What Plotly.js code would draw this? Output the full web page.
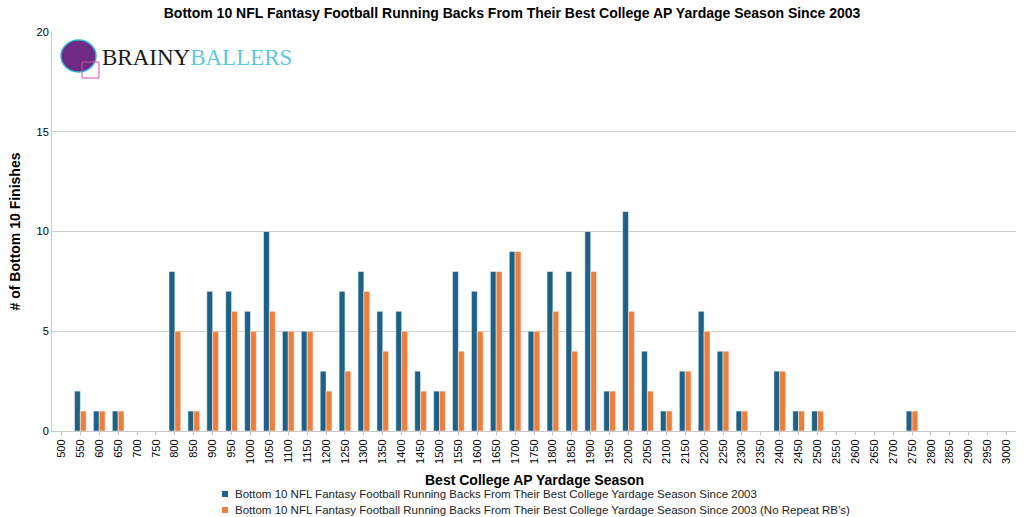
<!DOCTYPE html>
<html><head><meta charset="utf-8">
<script src="https://cdn.plot.ly/plotly-3.0.1.min.js"></script>
<style>html,body{margin:0;padding:0;background:#fff}#c{width:1024px;height:517px}</style>
</head><body><div id="c"></div>
<script>
const categories = ["500","550","600","650","700","750","800","850","900","950","1000","1050","1100","1150","1200","1250","1300","1350","1400","1450","1500","1550","1600","1650","1700","1750","1800","1850","1900","1950","2000","2050","2100","2150","2200","2250","2300","2350","2400","2450","2500","2550","2600","2650","2700","2750","2800","2850","2900","2950","3000"];
const allSeasons = [0,2,1,1,0,0,8,1,7,7,6,10,5,5,3,7,8,6,6,3,2,8,7,8,9,5,8,8,10,2,11,4,1,3,6,4,1,0,3,1,1,0,0,0,0,1,0,0,0,0,0];
const noRepeat   = [0,1,1,1,0,0,5,1,5,6,5,6,5,5,2,3,7,4,5,2,2,4,5,8,9,5,6,4,8,2,6,2,1,3,5,4,1,0,3,1,1,0,0,0,0,1,0,0,0,0,0];
const seriesNames = ["Bottom 10 NFL Fantasy Football Running Backs From Their Best College Yardage Season Since 2003",
  "Bottom 10 NFL Fantasy Football Running Backs From Their Best College Yardage Season Since 2003 (No Repeat RB’s)"];
const seriesColors = ['#1d6286', '#ef7d3b'];
const yTicks = [0,5,10,15,20];

const traces = [
  {type:'bar', x:categories, y:allSeasons, name:seriesNames[0], marker:{color:seriesColors[0], line:{color:'#ffffff', width:0.5}}},
  {type:'bar', x:categories, y:noRepeat, name:seriesNames[1], marker:{color:seriesColors[1], line:{color:'#ffffff', width:0.5}}}
];

const legendAnn = seriesNames.map((n, i) => ({
  xref:'paper', yref:'paper', x:(233-52)/964, y:(431-(494+16*i))/399, xanchor:'left', yanchor:'middle',
  showarrow:false, text:n, font:{size:11.5, color:'#222'}
}));
const legendShapes = seriesColors.map((c, i) => ({
  type:'rect', xref:'paper', yref:'paper',
  x0:(222-52)/964, x1:(228-52)/964,
  y0:(431-(491+16*i))/399, y1:(431-(497+16*i))/399,
  fillcolor:c, line:{width:0}
}));

const layout = {
  width:1024, height:517,
  margin:{l:52, r:8, t:32, b:86},
  paper_bgcolor:'#fff', plot_bgcolor:'#fff',
  font:{family:'Liberation Sans, Arial, sans-serif', color:'#000'},
  title:{text:'<b>Bottom 10 NFL Fantasy Football Running Backs From Their Best College AP Yardage Season Since 2003</b>',
    font:{size:14, color:'#000'}, x:0.5, xanchor:'center', y:0.985, yanchor:'top'},
  barmode:'group', bargap:0.38, bargroupgap:0,
  showlegend:false,
  xaxis:{type:'category', tickangle:-90, tickfont:{size:11}, showgrid:false, automargin:false,
    showline:true, linecolor:'#c8c8c8', ticks:'outside', ticklen:3, tickcolor:'#c8c8c8'},
  yaxis:{range:[0,20], tickvals:yTicks, tickfont:{size:11}, gridcolor:'#cfcfcf', gridwidth:1,
    showline:true, linecolor:'#c8c8c8', zeroline:false, ticks:'', automargin:false,
    title:{text:'<b># of Bottom 10 Finishes</b>', font:{size:14}, standoff:12}},
  annotations:[
    {xref:'paper', yref:'paper', x:(100-52)/964, y:(431-57)/399, xanchor:'left', yanchor:'middle', showarrow:false,
     text:'<span style="color:#1a1a1a">BRAINY</span><span style="color:#5cc8dd">BALLERS</span>',
     font:{family:'Liberation Serif, DejaVu Serif, serif', size:23}},
    {xref:'paper', yref:'paper', x:0.5, y:(431-480)/399, xanchor:'center', yanchor:'middle', showarrow:false,
     text:'<b>Best College AP Yardage Season</b>', font:{size:14}}
  ].concat(legendAnn),
  shapes:[
    {type:'circle', xref:'paper', yref:'paper', x0:(61-52)/964, x1:(96-52)/964, y0:(431-72)/399, y1:(431-40)/399, fillcolor:'#6e2a85', line:{color:'#2fb4c8', width:1.5}},
    {type:'rect', xref:'paper', yref:'paper', x0:(82-52)/964, x1:(99-52)/964, y0:(431-78)/399, y1:(431-62)/399, fillcolor:'rgba(0,0,0,0)', line:{color:'#d44fb0', width:1}}
  ].concat(legendShapes)
};
Plotly.newPlot('c', traces, layout, {displayModeBar:false, staticPlot:true});
</script></body></html>
